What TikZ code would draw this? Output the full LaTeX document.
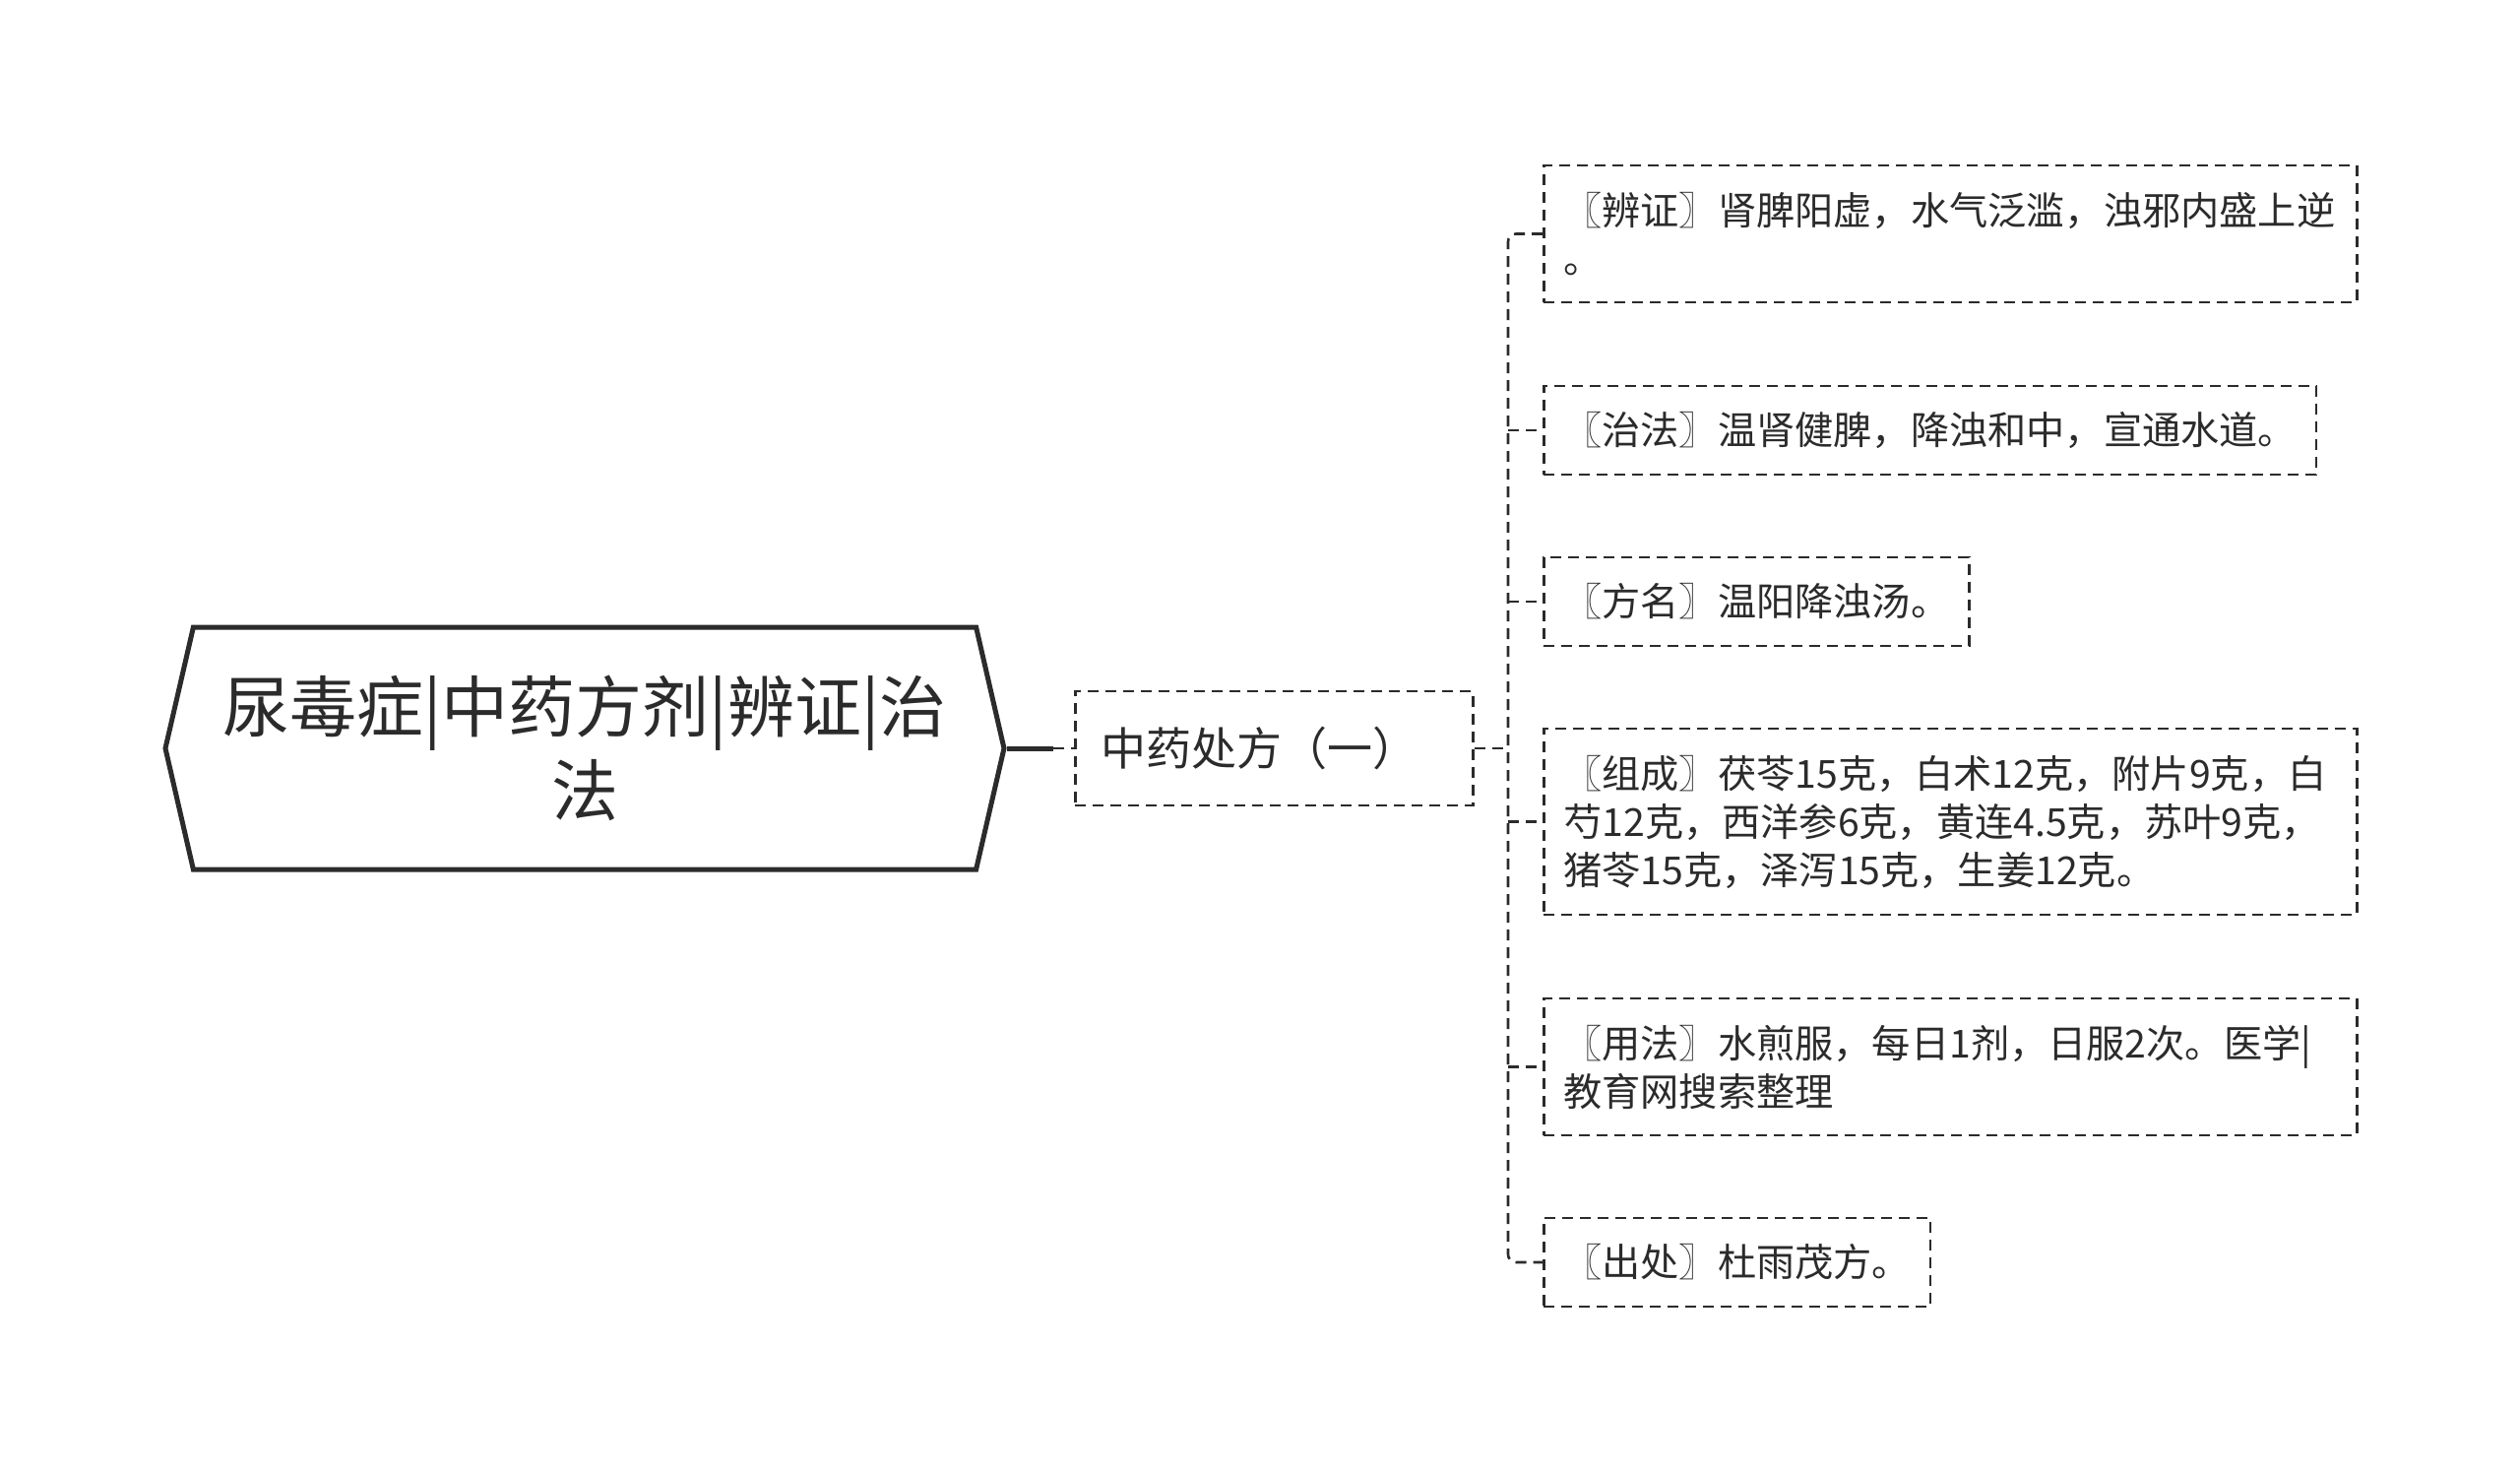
\documentclass[tikz,border=0pt]{standalone}
\usepackage{fontspec}
\setmainfont{Noto Sans CJK SC}
\usetikzlibrary{positioning, shapes.symbols}
\definecolor{ink}{HTML}{2B2B2B}
\tikzset{
  rootbox/.style={signal, signal to=east and west, signal pointer angle=154, draw=ink,
    line width=2.5pt, minimum width=426pt, minimum height=123pt, align=center, text=ink,
    font=\fontsize{34}{42.5}\selectfont},
  midbox/.style={draw=ink, line width=1.3pt, dash pattern=on 5.5pt off 3.5pt, anchor=west,
    inner xsep=13pt, text width=176pt, align=left, minimum height=58pt, text=ink,
    font=\fontsize{23}{28}\selectfont},
  leafbox/.style={draw=ink, line width=1.3pt, dash pattern=on 5.5pt off 3.5pt, anchor=west,
    inner xsep=10pt, align=left, text=ink, font=\fontsize{19.6}{24.5}\selectfont},
  wide/.style={text width=393pt},
  conn/.style={draw=ink, line width=1.3pt, dash pattern=on 5.5pt off 3.5pt},
}

\begin{document}
\begin{tikzpicture}[x=0.5pt, y=-0.5pt]
    \useasboundingbox (0,0) rectangle (2560,1496);
    \node[rootbox] (root) at (594,760) {尿毒症|中药方剂|辨证|治\\法};
    \node[midbox] (mid) at (1091,760) {中药处方（一）};
    \node[leafbox, wide, minimum height=69.5pt] (l1) at (1567,237.5) {〖辨证〗肾脾阳虚，水气泛滥，浊邪内盛上逆\\。};
    \node[leafbox, minimum height=45pt] (l2) at (1567,437) {〖治法〗温肾健脾，降浊和中，宣通水道。};
    \node[leafbox, minimum height=45pt] (l3) at (1567,611) {〖方名〗温阳降浊汤。};
    \node[leafbox, wide, minimum height=94.5pt] (l4) at (1567,834.5) {〖组成〗茯苓15克，白术12克，附片9克，白\\芍12克，西洋参6克，黄连4.5克，苏叶9克，\\猪苓15克，泽泻15克，生姜12克。};
    \node[leafbox, wide, minimum height=69.5pt] (l5) at (1567,1083.5) {〖用法〗水煎服，每日1剂，日服2次。医学|\\教育网搜索整理};
    \node[leafbox, minimum height=45pt] (l6) at (1567,1282) {〖出处〗杜雨茂方。};
    % connectors
    \coordinate (stem) at (1070,760);
    \coordinate (trunk) at (1532,760);
    \draw[ink, line width=2.5pt] (root.east) -- (stem);
    \draw[conn] (stem) -- (mid.west);
    \draw[conn] (mid.east) -- (trunk);
    \draw[conn, rounded corners=4pt] (l1.west) -- (l1.west -| trunk) -- (l6.west -| trunk) -- (l6.west);
    \foreach \n in {l2,l3,l4,l5}
      \draw[conn] (\n.west -| trunk) -- (\n.west);
\end{tikzpicture}
\end{document}
